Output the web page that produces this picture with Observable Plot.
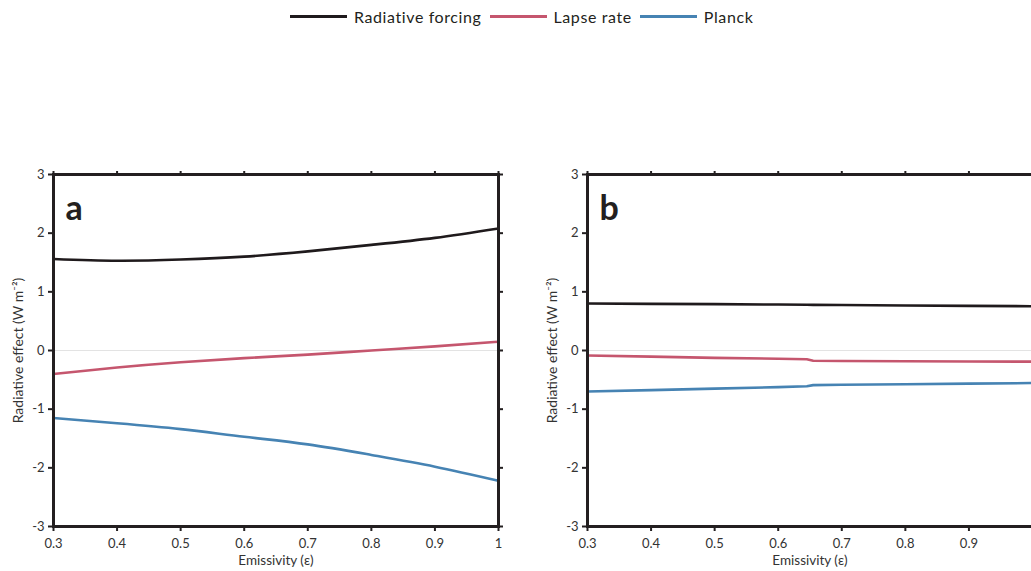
<!DOCTYPE html>
<html><head><meta charset="utf-8">
<script src="https://cdn.jsdelivr.net/npm/d3@7"></script>
<script src="https://cdn.jsdelivr.net/npm/@observablehq/plot@0.6"></script>
<style>
html,body{margin:0;padding:0;background:#fff;overflow:hidden;width:1031px;height:571px}
body{font-family:Lato,"Open Sans",sans-serif;position:relative}
#legend{position:absolute;left:290px;top:-2px;height:36px;display:flex;align-items:center;font-size:16px;letter-spacing:0.6px;color:#231f20;white-space:nowrap}
.sw{display:inline-block;width:57px;height:3px;margin-right:7px}
.it{display:flex;align-items:center;margin-right:8px}
#panels{position:absolute;left:0;top:36px;display:flex;flex-wrap:nowrap;width:1100px}
#panels svg{flex:none}
#panels svg text.ylab{letter-spacing:0.7px}
</style></head>
<body>
<div id="legend"></div>
<div id="panels"></div>
<script>
const seriesNames = ["Radiative forcing", "Lapse rate", "Planck"];
const seriesColors = ["#1f1a1c", "#c5566e", "#4683b3"];
const xTicks = [0.3, 0.4, 0.5, 0.6, 0.7, 0.8, 0.9, 1.0];
const yTicks = [-3, -2, -1, 0, 1, 2, 3];
const xLabel = "Emissivity (ε)";
const yLabel = "Radiative effect (W m⁻²)";

// Panel a
const aEps = [0.3, 0.4, 0.5, 0.6, 0.7, 0.8, 0.9, 1.0];
const aForcing = [1.56, 1.53, 1.55, 1.60, 1.69, 1.80, 1.92, 2.08];
const aLapse = [-0.40, -0.29, -0.20, -0.13, -0.07, 0.00, 0.07, 0.15];
const aPlanck = [-1.15, -1.24, -1.34, -1.47, -1.60, -1.78, -1.98, -2.22];

// Panel b
const bEps = [0.3, 0.4, 0.5, 0.6, 0.645, 0.655, 0.7, 0.8, 0.9, 1.0];
const bForcing = [0.80, 0.795, 0.79, 0.783, 0.779, 0.778, 0.775, 0.767, 0.76, 0.755];
const bLapse = [-0.085, -0.105, -0.125, -0.14, -0.15, -0.175, -0.178, -0.183, -0.187, -0.19];
const bPlanck = [-0.70, -0.675, -0.65, -0.625, -0.61, -0.59, -0.585, -0.575, -0.565, -0.555];

// legend
const leg = document.getElementById("legend");
seriesNames.forEach((n, i) => {
  const it = document.createElement("div"); it.className = "it";
  const sw = document.createElement("span"); sw.className = "sw"; sw.style.background = seriesColors[i];
  const t = document.createElement("span"); t.textContent = n;
  it.appendChild(sw); it.appendChild(t); leg.appendChild(it);
});

const fmt = d => String(+(+d).toFixed(1));

function panel(letter, xs, values, curve, hideLast) {
  const rows = [];
  values.forEach((vals, si) => vals.forEach((v, j) => rows.push({eps: xs[j], value: v, series: seriesNames[si]})));
  return Plot.plot({
    width: 534, height: 535,
    marginTop: 138, marginBottom: 45, marginLeft: 53, marginRight: 36,
    x: {domain: [0.3, 1]},
    y: {domain: [-3, 3]},
    color: {domain: seriesNames, range: seriesColors},
    style: {fontFamily: "Lato, sans-serif", fontSize: "13px", color: "#231f20", background: "transparent", overflow: "visible"},
    marks: [
      Plot.ruleY([0], {stroke: "#e3e3e3", strokeWidth: 1}),
      Plot.line(rows, {x: "eps", y: "value", z: "series", stroke: "series", strokeWidth: 2.6, curve}),
      Plot.axisX({ticks: xTicks, tickSize: 5, tickPadding: 7, strokeWidth: 2, fill: "#333",
        tickFormat: d => (hideLast && +d === 1) ? "" : fmt(d), label: null}),
      Plot.axisX({anchor: "top", ticks: xTicks, tickSize: 4, strokeWidth: 2, tickFormat: () => "", label: null}),
      Plot.axisY({ticks: yTicks, tickSize: 5, strokeWidth: 2, tickFormat: d => String(d), fill: "#333", label: null}),
      Plot.axisY({anchor: "right", ticks: yTicks, tickSize: 4, strokeWidth: 2, tickFormat: () => "", label: null}),
      Plot.frame({stroke: "#231f20", strokeWidth: 3}),
      Plot.text([xLabel], {text: d => d, frameAnchor: "bottom", dy: 34, lineAnchor: "middle", textAnchor: "middle", fontSize: 13.5, fill: "#333"}),
      Plot.text([yLabel], {text: d => d, frameAnchor: "left", dx: -35, rotate: -90, lineAnchor: "middle", textAnchor: "middle", fontSize: 14, fill: "#333", className: "ylab"}),
      Plot.text([letter], {text: d => d, frameAnchor: "top-left", dx: 12, dy: 21, fontSize: 34, fontWeight: "bold", fill: "#231f20"})
    ]
  });
}

const host = document.getElementById("panels");
host.appendChild(panel("a", aEps, [aForcing, aLapse, aPlanck], "natural", false));
host.appendChild(panel("b", bEps, [bForcing, bLapse, bPlanck], "linear", true));
</script>
</body></html>
